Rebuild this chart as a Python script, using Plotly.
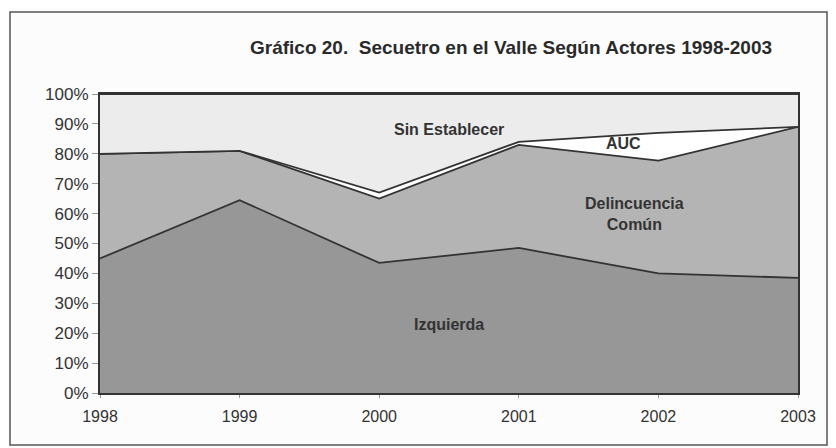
import plotly.graph_objects as go

years = [1998, 1999, 2000, 2001, 2002, 2003]
izquierda = [45, 64.5, 43.5, 48.5, 40, 38.5]
delincuencia = [35, 16.5, 21.5, 34.5, 37.7, 50.5]
auc = [0, 0, 2, 1, 9.3, 0]
sin_establecer = [20, 19, 33, 16, 13, 11]
pct_ticks = list(range(0, 101, 10))
pct_labels = [f"{v}%" for v in pct_ticks]

series = [
    ("Izquierda", izquierda, "#979797"),
    ("Delincuencia Común", delincuencia, "#b4b4b4"),
    ("AUC", auc, "#ffffff"),
    ("Sin Establecer", sin_establecer, "#ececec"),
]

fig = go.Figure()
for name, vals, col in series:
    fig.add_trace(go.Scatter(
        x=years, y=vals, name=name, stackgroup="one", groupnorm="percent",
        mode="lines", line=dict(color="#333333", width=1.8), fillcolor=col,
    ))

label_font = dict(family="Liberation Sans, Arial", size=16, color="#333333")
labels = [
    ("<b>Sin Establecer</b>", 2000.5, 88),
    ("<b>AUC</b>", 2001.75, 83.5),
    ("<b>Delincuencia</b><br><b>Común</b>", 2001.83, 60),
    ("<b>Izquierda</b>", 2000.5, 23),
]
for text, x, y in labels:
    fig.add_annotation(x=x, y=y, text=text, showarrow=False, font=label_font,
                       xanchor="center", yanchor="middle")

# page body has an 8px margin, so the figure is drawn 8px smaller and positions shifted
W, H = 828, 440
L, R, T, B = 92, 38, 86, 55
pw, ph = W - L - R, H - T - B


def px_x(x):
    return (x - 8 - L) / pw


def px_y(y):
    return (H - B - (y - 8)) / ph


fig.add_annotation(
    x=px_x(511), y=px_y(47), xref="paper", yref="paper",
    text="<b>Gráfico 20.  Secuetro en el Valle Según Actores 1998-2003</b>",
    showarrow=False, xanchor="center", yanchor="middle",
    font=dict(family="Liberation Sans, Arial", size=19, color="#2a2a2a"),
)

# outer frame
fig.add_shape(type="rect", xref="paper", yref="paper",
              x0=px_x(10), x1=px_x(827), y0=px_y(445), y1=px_y(12),
              line=dict(color="#555555", width=1.5))

fig.update_layout(
    width=W, height=H,
    margin=dict(l=L, r=R, t=T, b=B),
    paper_bgcolor="#fcfcfc", plot_bgcolor="#ececec",
    showlegend=False,
    font=dict(family="Liberation Sans, Arial", color="#333333"),
)
fig.update_xaxes(
    range=[1998, 2003], tickvals=years, ticktext=[str(y) for y in years],
    showgrid=False, zeroline=False, showline=True, linecolor="#333333", linewidth=2, mirror=True,
    ticks="outside", ticklen=3, tickcolor="#999999", tickfont=dict(size=16, color="#333333"),
    ticklabelstandoff=5,
)
fig.update_yaxes(
    range=[0, 100], tickvals=pct_ticks, ticktext=pct_labels,
    showgrid=False, zeroline=False, showline=True, linecolor="#333333", linewidth=2, mirror=True,
    ticks="outside", ticklen=6, tickcolor="#999999", tickfont=dict(size=17, color="#333333"),
)

fig.write_html("out.html")
